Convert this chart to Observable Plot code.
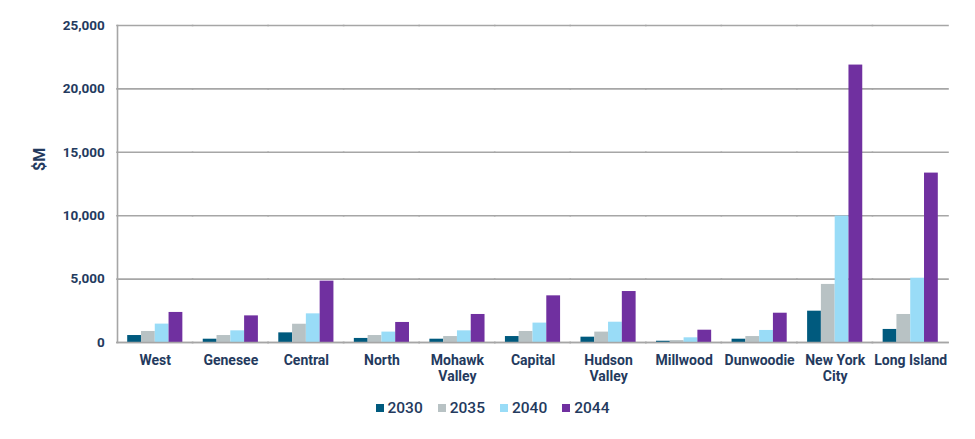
<!DOCTYPE html>
<html>
<head>
<meta charset="utf-8">
<script src="https://cdn.jsdelivr.net/npm/d3@7"></script>
<script src="https://cdn.jsdelivr.net/npm/@observablehq/plot@0.6"></script>
<style>
  html, body { margin: 0; padding: 0; background: #fff; }
  #chart { width: 975px; height: 439px; font-family: Roboto, "Liberation Sans", sans-serif; }
  .legend { display: flex; justify-content: center; align-items: center; gap: 15px; height: 40px; padding-top: 3px; margin-left: 10px; color: #243a5e; font-size: 15.5px; font-weight: 500; }
  .legend .item { display: flex; align-items: center; gap: 4px; }
  .legend .sw { width: 8px; height: 8px; display: inline-block; }
</style>
</head>
<body>
<div id="chart"></div>
<script>
const regions = ["West", "Genesee", "Central", "North", "Mohawk Valley", "Capital", "Hudson Valley", "Millwood", "Dunwoodie", "New York City", "Long Island"];
const regionLabels = ["West", "Genesee", "Central", "North", "Mohawk\nValley", "Capital", "Hudson\nValley", "Millwood", "Dunwoodie", "New York\nCity", "Long Island"];
const years = ["2030", "2035", "2040", "2044"];
const colors = ["#005a7e", "#b8c2c4", "#99dcf7", "#7030a0"];
const v2030 = [550, 260, 760, 320, 260, 470, 420, 100, 260, 2470, 1030];
const v2035 = [870, 550, 1440, 550, 470, 870, 820, 150, 470, 4580, 2210];
const v2040 = [1450, 920, 2260, 820, 920, 1530, 1600, 370, 950, 9970, 5070];
const v2044 = [2370, 2100, 4840, 1580, 2210, 3680, 4020, 970, 2310, 21880, 13360];
const yTicks = [0, 5000, 10000, 15000, 20000, 25000];

const series = [v2030, v2035, v2040, v2044];
const data = [];
regions.forEach((r, i) => years.forEach((y, j) => data.push({region: r, year: y, value: series[j][i]})));
const labelOf = new Map(regions.map((r, i) => [r, regionLabels[i]]));

const ink = "#243a5e";
const grid = "#a6a6a6";
const plot = Plot.plot({
  width: 975,
  height: 385,
  marginLeft: 117,
  marginRight: 27,
  marginTop: 25,
  marginBottom: 43,
  style: {fontFamily: "Roboto, 'Liberation Sans', sans-serif", fontSize: "13px", color: ink, background: "#fff"},
  fx: {domain: regions, paddingInner: 0.27, paddingOuter: 0.135, round: false, label: null},
  x: {domain: years, padding: 0, round: false, axis: null},
  y: {domain: [0, 25000], label: null},
  color: {domain: years, range: colors},
  marks: [
    Plot.ruleY(yTicks, {stroke: grid, strokeWidth: 1.6, insetLeft: -11, insetRight: -11}),
    Plot.barY(data, {fx: "region", x: "year", y: "value", fill: "year"}),
    Plot.ruleY([0], {stroke: grid, strokeWidth: 1.6, insetLeft: -11, insetRight: -11}),
    Plot.frame({anchor: "left", stroke: grid, strokeWidth: 1.6, insetLeft: -10.2, facet: "super"}),
    Plot.text(["$M"], {frameAnchor: "left", rotate: -90, dx: -88, dy: -13, fontSize: 16, fontWeight: "bold", fill: ink, facet: "super"}),
    Plot.axisY({ticks: yTicks, tickSize: 0, tickPadding: 23, tickFormat: d3.format(","), fontSize: 13.5, fontWeight: "bold", fill: ink, label: null}),
    Plot.axisFx({anchor: "bottom", tickSize: 0, tickPadding: 11, tickFormat: d => labelOf.get(d), fontSize: 14, fontWeight: "bold", fill: ink, label: null, lineHeight: 1.15})
  ]
});
const chart = document.getElementById("chart");
chart.appendChild(plot);
const legend = document.createElement("div");
legend.className = "legend";
years.forEach((y, i) => {
  const it = document.createElement("div");
  it.className = "item";
  it.innerHTML = `<span class="sw" style="background:${colors[i]}"></span><span>${y}</span>`;
  legend.appendChild(it);
});
chart.appendChild(legend);
</script>
</body>
</html>
